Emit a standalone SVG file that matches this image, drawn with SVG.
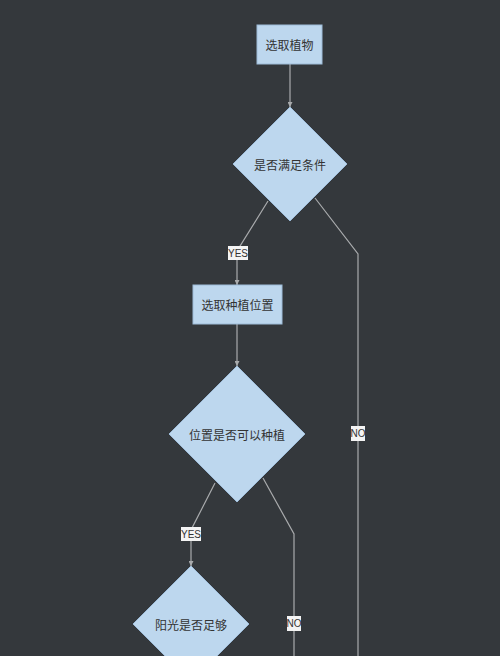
<svg xmlns="http://www.w3.org/2000/svg" width="500" height="656" viewBox="0 0 500 656">
<defs>
<style>
.node{fill:#bdd7ee;stroke:#9dbbd8;stroke-width:1}
.nt{font-family:"Noto Sans CJK SC","Liberation Sans",sans-serif;font-size:12px;fill:#333;text-anchor:middle;dominant-baseline:central}
.ln{fill:none;stroke:#a9abad;stroke-width:1.2}
.lb{fill:#f4f4f4}
.lt{font-family:"Liberation Sans","Noto Sans",sans-serif;font-size:10px;fill:#333;text-anchor:middle;dominant-baseline:central}
</style>
<marker id="ah" viewBox="0 0 8 8" refX="8" refY="4" markerWidth="5" markerHeight="5" orient="auto" markerUnits="userSpaceOnUse">
<path d="M0,0 L8,4 L0,8 z" fill="#a9abad"/>
</marker>
</defs>
<rect width="500" height="656" fill="#34383c"/>
<g id="connectors">
<path class="ln" d="M290,64 V107" marker-end="url(#ah)"/>
<path class="ln" d="M268,201 L237,251 V285" marker-end="url(#ah)"/>
<path class="ln" d="M315,198 L358,254 V656"/>
<path class="ln" d="M237,324 V366" marker-end="url(#ah)"/>
<path class="ln" d="M215,483 L191,530 V566" marker-end="url(#ah)"/>
<path class="ln" d="M263,478 L294,534 V656"/>
<g id="label-yes1"><rect class="lb" x="228" y="246" width="20" height="14"/><text class="lt" x="238" y="253">YES</text></g>
<g id="label-no1"><rect class="lb" x="351" y="426" width="14" height="15"/><text class="lt" x="358" y="433.5">NO</text></g>
<g id="label-yes2"><rect class="lb" x="181" y="527" width="20" height="14"/><text class="lt" x="191" y="534">YES</text></g>
<g id="label-no2"><rect class="lb" x="287" y="616" width="14" height="15"/><text class="lt" x="294" y="623.5">NO</text></g>
</g>
<g id="n1"><rect class="node" x="257" y="25" width="65" height="39"/><text class="nt" x="289.5" y="44.5">选取植物</text></g>
<g id="n2"><path class="node" d="M290,107 L347,164 L290,221 L233,164 z"/><text class="nt" x="290" y="164">是否满足条件</text></g>
<g id="n3"><rect class="node" x="193" y="285" width="89" height="39"/><text class="nt" x="237.5" y="304.5">选取种植位置</text></g>
<g id="n4"><path class="node" d="M237,366 L305,434 L237,502 L169,434 z"/><text class="nt" x="237" y="434">位置是否可以种植</text></g>
<g id="n5"><path class="node" d="M191,566 L249,624 L191,682 L133,624 z"/><text class="nt" x="191" y="624">阳光是否足够</text></g>
</svg>
